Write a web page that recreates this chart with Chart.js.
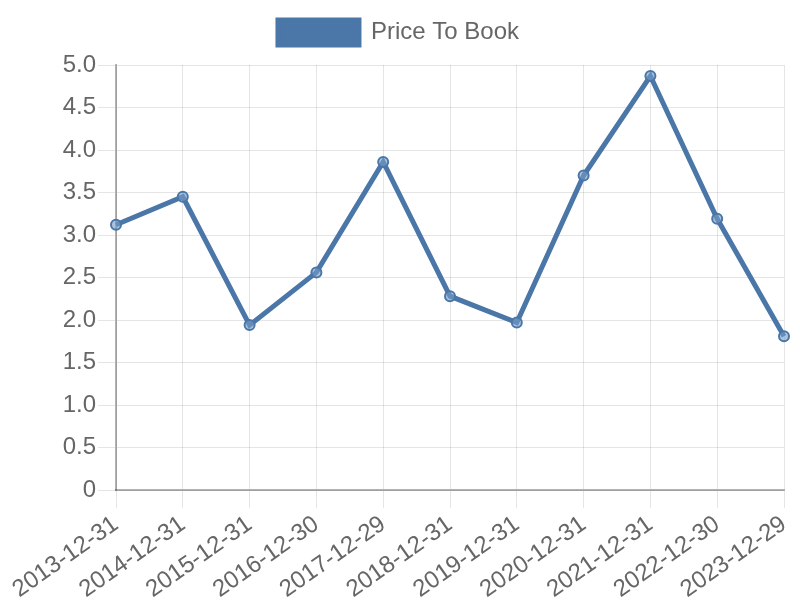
<!DOCTYPE html>
<html>
<head>
<meta charset="utf-8">
<script src="https://cdn.jsdelivr.net/npm/chart.js@4/dist/chart.umd.min.js"></script>
<style>
  html, body { margin: 0; padding: 0; background: #fff; }
  #wrap { width: 800px; height: 600px; }
</style>
</head>
<body>
<div id="wrap"><canvas id="priceChart" width="800" height="600"></canvas></div>
<script>
const dates = ["2013-12-31", "2014-12-31", "2015-12-31", "2016-12-30", "2017-12-29", "2018-12-31",
  "2019-12-31", "2020-12-31", "2021-12-31", "2022-12-30", "2023-12-29"];
const priceToBook = [3.12, 3.45, 1.94, 2.56, 3.86, 2.28, 1.97, 3.70, 4.87, 3.19, 1.81];

Chart.defaults.font.family = "'Liberation Sans', Arial, sans-serif";
Chart.defaults.color = "#666";

// a little more room between the legend and the plot
const legendGap = {
  id: "legendGap",
  beforeInit(chart) {
    const origFit = chart.legend.fit;
    chart.legend.fit = function () {
      origFit.bind(chart.legend)();
      this.height += 10;
    };
  }
};

const ctx = document.getElementById("priceChart").getContext("2d");
new Chart(ctx, {
  type: "line",
  data: {
    labels: dates,
    datasets: [{
      label: "Price To Book",
      data: priceToBook,
      borderColor: "#4a76a8",
      backgroundColor: "#4a76a8",
      borderWidth: 5,
      pointRadius: 5,
      pointBorderWidth: 2,
      pointBackgroundColor: "rgba(120,156,198,0.6)",
      pointBorderColor: "#4a76a8",
      tension: 0,
      fill: false
    }]
  },
  options: {
    responsive: false,
    animation: false,
    layout: { padding: { left: 10, right: 13, top: 10, bottom: 0 } },
    plugins: {
      legend: {
        labels: { font: { size: 24 }, boxWidth: 81, boxHeight: 25, padding: 10 }
      },
      tooltip: { enabled: false }
    },
    scales: {
      x: {
        grid: { color: "rgba(0,0,0,0.1)", tickLength: 18 },
        border: { color: "rgba(0,0,0,0.3)", width: 2 },
        ticks: { font: { size: 24 }, maxRotation: 35, minRotation: 35, padding: 2 },
        afterFit(scale) {
          scale.height = 110;
          scale.paddingRight = 16;
        }
      },
      y: {
        min: 0,
        max: 5,
        grid: { color: "rgba(0,0,0,0.1)", tickLength: 18 },
        border: { color: "rgba(0,0,0,0.3)", width: 2 },
        ticks: { font: { size: 24 }, stepSize: 0.5, padding: 2 },
        afterFit(scale) { scale.width = 106; }
      }
    }
  },
  plugins: [legendGap]
});
</script>
</body>
</html>
